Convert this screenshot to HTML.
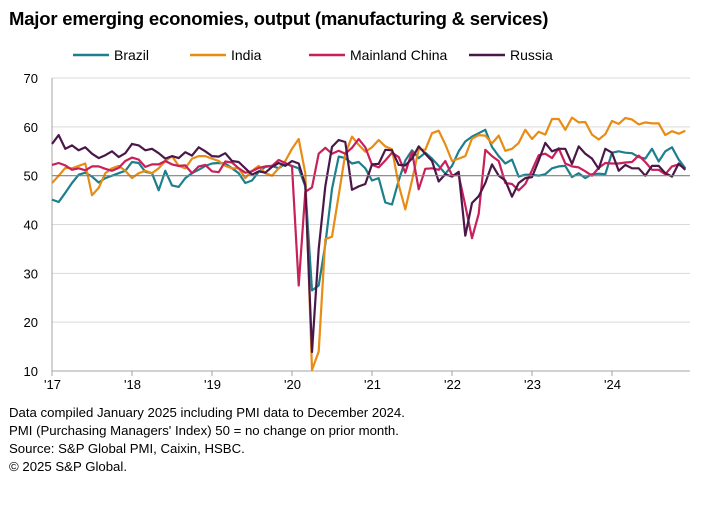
<!DOCTYPE html>
<html><head><meta charset="utf-8">
<style>
html,body{margin:0;padding:0;background:#fff;}
body{width:713px;height:516px;overflow:hidden;font-family:"Liberation Sans",Arial,sans-serif;position:relative;}
#title{position:absolute;left:9px;top:8px;font-size:18.5px;font-weight:bold;color:#000;letter-spacing:-0.2px;}
.foot{position:absolute;left:9px;font-size:13.2px;color:#000;}
svg{position:absolute;left:0;top:0;}
</style></head>
<body>
<div id="title">Major emerging economies, output (manufacturing &amp; services)</div>
<svg id="chart" width="713" height="400"></svg>
<div class="foot" style="top:405px">Data compiled January 2025 including PMI data to December 2024.</div>
<div class="foot" style="top:423px">PMI (Purchasing Managers' Index) 50 = no change on prior month.</div>
<div class="foot" style="top:441px">Source: S&amp;P Global PMI, Caixin, HSBC.</div>
<div class="foot" style="top:459px">© 2025 S&amp;P Global.</div>
<script>
const yTicks=[10,20,30,40,50,60,70];
const xLabels=["'17","'18","'19","'20","'21","'22","'23","'24"];
const seriesNames=["Brazil","India","Mainland China","Russia"];
const brazil=[45.1,44.6,46.5,48.5,50.2,50.6,49.8,48.6,49.5,50.0,50.5,51.0,
52.8,52.6,50.8,50.5,47.0,51.0,48.0,47.7,49.5,50.5,51.2,52.0,
52.5,52.6,52.5,51.5,50.5,48.5,49.0,50.8,51.8,52.0,51.5,52.5,
52.0,51.5,47.8,26.5,27.5,35.9,47.3,53.9,53.6,52.5,52.8,51.5,
49.0,49.5,44.5,44.1,49.0,53.1,55.2,53.6,54.7,53.5,52.0,50.4,
52.0,55.0,57.0,58.0,58.7,59.4,55.9,54.0,52.5,53.3,49.8,50.2,
50.2,50.0,50.3,51.5,51.9,52.0,49.7,50.5,49.5,50.3,50.4,50.3,
54.7,55.0,54.7,54.6,53.8,53.5,55.5,52.9,55.0,55.8,53.3,51.5];
const india=[48.5,50.0,51.6,51.5,52.0,52.5,46.0,47.5,50.5,51.5,52.0,51.0,
49.5,50.5,51.0,50.5,51.5,53.0,54.0,52.0,51.5,53.5,54.0,54.0,
53.5,53.0,52.0,51.5,51.5,49.5,51.0,52.0,50.5,50.0,51.5,53.0,
55.5,57.5,50.5,10.2,14.0,37.0,37.5,46.0,54.5,58.0,56.3,54.9,
55.8,57.3,56.0,55.4,48.1,43.1,49.0,55.4,55.3,58.7,59.2,56.4,
53.0,53.5,54.0,57.6,58.3,58.2,56.6,58.2,55.1,55.5,56.7,59.4,
57.5,59.0,58.4,61.6,61.6,59.4,61.9,60.9,61.0,58.4,57.4,58.5,
61.2,60.6,61.8,61.5,60.5,60.9,60.7,60.7,58.3,59.1,58.6,59.2];
const china=[52.2,52.6,52.1,51.2,51.5,51.1,51.9,51.9,51.4,51.0,51.6,53.0,
53.7,53.3,51.8,52.3,52.3,53.0,52.3,52.0,52.1,50.5,51.9,52.2,
50.9,50.7,52.9,52.7,51.5,50.6,50.9,51.6,51.9,52.0,53.2,52.6,
51.9,27.5,46.7,47.6,54.5,55.7,54.5,55.1,54.5,55.7,57.5,55.8,
52.2,51.7,53.1,54.7,53.8,50.6,54.9,47.2,51.4,51.5,51.2,53.0,
50.1,50.1,43.9,37.2,42.2,55.3,54.0,53.0,48.5,48.3,47.0,48.3,
51.1,54.2,54.5,53.6,55.6,52.5,51.9,51.7,50.9,50.0,51.6,52.6,
52.5,52.5,52.7,52.8,54.1,52.8,51.2,51.2,50.3,51.9,52.3,51.4];
const russia=[56.5,58.3,55.5,56.2,55.2,55.8,54.5,53.6,54.2,55.0,53.8,54.6,
56.5,56.2,55.2,55.5,54.6,53.5,54.0,53.6,54.8,54.1,55.8,55.0,
54.0,53.9,54.6,53.0,52.8,51.5,50.2,50.9,50.6,51.8,52.6,52.0,
53.0,52.5,48.1,13.9,35.0,47.8,55.9,57.3,56.9,47.1,47.8,48.3,
52.3,52.4,55.3,55.2,52.2,52.1,53.5,56.0,54.5,53.0,48.8,50.3,
49.8,50.8,37.7,44.4,45.8,48.5,52.3,50.0,49.0,45.7,48.5,49.5,
49.7,53.1,56.7,55.0,55.5,55.5,52.4,56.0,54.5,53.5,51.4,55.5,
54.7,51.0,52.2,51.5,51.5,50.0,52.0,52.0,50.5,49.8,52.5,51.2];
const colors=["#1d7f8c","#e88c14","#c8205a","#4a1848"];
const NS="http://www.w3.org/2000/svg";
const svg=document.getElementById('chart');
const x0=52,pxPerMonth=80/12,yTop=78,yBot=371,yMin=10,yMax=70;
function X(i){return x0+i*pxPerMonth;}
function Y(v){return yBot-(v-yMin)/(yMax-yMin)*(yBot-yTop);}
function mk(tag,attrs){const e=document.createElementNS(NS,tag);for(const k in attrs)e.setAttribute(k,attrs[k]);svg.appendChild(e);return e;}
yTicks.forEach(t=>{
  if(t!==50&&t!==10){const g=mk('line',{x1:x0,x2:690,y1:Y(t),y2:Y(t),stroke:'#d9d9d9','stroke-width':1});
  
  }
  const lb=mk('text',{x:38,y:Y(t)+5,'text-anchor':'end','font-size':13,fill:'#000','font-family':'Liberation Sans, Arial, sans-serif'});
  lb.textContent=t;
  
  
});
const ax=mk('line',{x1:x0,x2:x0,y1:yTop,y2:yBot,stroke:'#a6a6a6','stroke-width':1});


const bx=mk('line',{x1:x0,x2:690,y1:yBot,y2:yBot,stroke:'#a6a6a6','stroke-width':1});


xLabels.forEach((l,k)=>{
  const xi=X(k*12);
  const tk=mk('line',{x1:xi,x2:xi,y1:yBot,y2:yBot+5,stroke:'#a6a6a6'});
  
  
  const t=mk('text',{x:xi-8,y:yBot+18,'font-size':13,fill:'#000','font-family':'Liberation Sans, Arial, sans-serif'});
  t.textContent=l;
  
  
});
[brazil,india,china,russia].forEach((s,si)=>{
  const d=s.map((v,i)=>(i?'L':'M')+X(i).toFixed(1)+' '+Y(v).toFixed(1)).join(' ');
  const p=mk('path',{d:d,fill:'none',stroke:colors[si],'stroke-width':2.2,'stroke-linejoin':'round'});
  
  
});
const ref=mk('line',{x1:x0,x2:690,y1:Y(50),y2:Y(50),stroke:'#7f7f7f','stroke-width':1.2});


const legX=[73,190,309,469];
seriesNames.forEach((n,i)=>{
  const l=mk('line',{x1:legX[i],x2:legX[i]+36,y1:55,y2:55,stroke:colors[i],'stroke-width':2.5});
  
  
  const t=mk('text',{x:legX[i]+41,y:60,'font-size':14,fill:'#000','font-family':'Liberation Sans, Arial, sans-serif'});
  t.textContent=n;
  
  
});
</script>
</body></html>
